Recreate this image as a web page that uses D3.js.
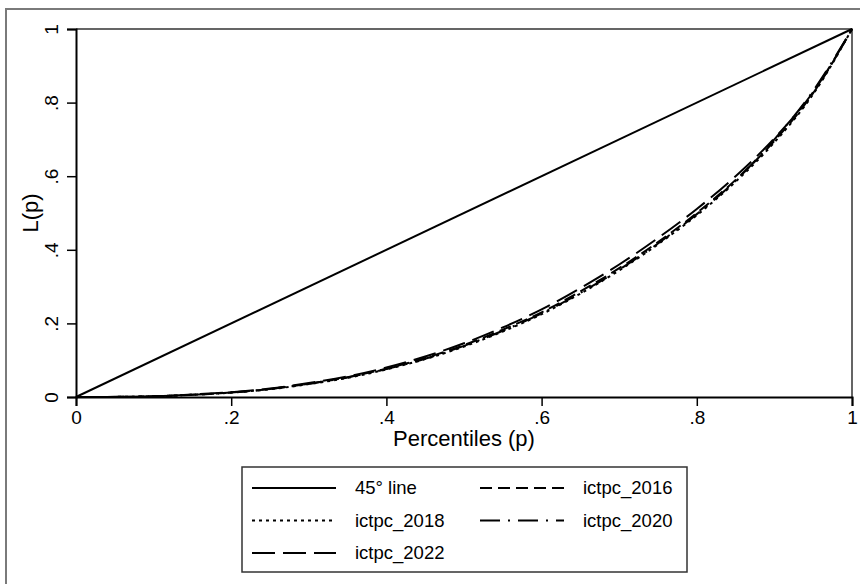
<!DOCTYPE html>
<html>
<head>
<meta charset="utf-8">
<script src="https://cdn.jsdelivr.net/npm/d3@7"></script>
<style>
  body { margin: 0; background: #fff; }
  text { font-family: "Liberation Sans", Arial, sans-serif; fill: #000; }
</style>
</head>
<body>
<svg id="chart" width="860" height="584"></svg>
<script>
// percentiles (x values)
var pct = [0, .05, .1, .15, .2, .25, .3, .35, .4, .45, .5, .55, .6, .65, .7, .75, .8, .85, .9, .95, 1];

// Lorenz curve values
var ictpc2016 = [0, .0003, .002, .006, .012, .022, .036, .054, .077, .106, .141, .183, .230, .287, .350, .421, .500, .590, .696, .826, 1];
var ictpc2018 = [0, .0003, .002, .006, .012, .021, .035, .052, .075, .103, .137, .178, .225, .281, .344, .415, .494, .585, .692, .823, 1];
var ictpc2020 = [0, .0003, .002, .006, .012, .022, .036, .053, .076, .104, .139, .180, .227, .283, .346, .417, .497, .588, .700, .832, 1];
var ictpc2022 = [0, .0004, .002, .007, .013, .023, .038, .056, .080, .110, .146, .189, .238, .296, .360, .432, .511, .600, .703, .829, 1];

var tickVals = [0, .2, .4, .6, .8, 1];
var tickLabels = ["0", ".2", ".4", ".6", ".8", "1"];

var series = [
  {name: "ictpc_2016", values: ictpc2016, dash: "12,6"},
  {name: "ictpc_2018", values: ictpc2018, dash: "3,4"},
  {name: "ictpc_2020", values: ictpc2020, dash: "20,8,2,8"},
  {name: "ictpc_2022", values: ictpc2022, dash: "23,8"}
];

var svg = d3.select("#chart");

// outer graph frame
svg.append("rect")
  .attr("x", 6).attr("y", 9)
  .attr("width", 880).attr("height", 620)
  .attr("fill", "none")
  .attr("stroke", "#7a7a7a")
  .attr("stroke-width", 2);

var plotLeft = 76, plotRight = 852, plotTop = 29, plotBottom = 397;
var x = d3.scaleLinear([0, 1], [plotLeft, plotRight]);
var y = d3.scaleLinear([0, 1], [plotBottom, plotTop]);

// plot region border (top and right)
svg.append("path")
  .attr("d", "M" + plotLeft + "," + plotTop + "H" + plotRight + "V" + plotBottom)
  .attr("fill", "none")
  .attr("stroke", "#333")
  .attr("stroke-width", 1.5);

// x axis
var xAxis = d3.axisBottom(x)
  .tickValues(tickVals)
  .tickFormat((d, i) => tickLabels[i])
  .tickSize(9)
  .tickPadding(5);

var gx = svg.append("g")
  .attr("transform", "translate(0," + plotBottom + ")")
  .call(xAxis);
gx.select(".domain").attr("stroke", "#000").attr("stroke-width", 2);
gx.selectAll(".tick line").attr("stroke", "#000").attr("stroke-width", 1.5);
gx.selectAll(".tick text").style("font-size", "19px").attr("fill", "#000");

// y axis, labels rotated
var yAxis = d3.axisLeft(y)
  .tickValues(tickVals)
  .tickFormat((d, i) => tickLabels[i])
  .tickSize(9)
  .tickPadding(5);

var gy = svg.append("g")
  .attr("transform", "translate(" + plotLeft + ",0)")
  .call(yAxis);
gy.select(".domain").attr("stroke", "#000").attr("stroke-width", 2);
gy.selectAll(".tick line").attr("stroke", "#000").attr("stroke-width", 1.5);
gy.selectAll(".tick text")
  .style("font-size", "19px")
  .attr("fill", "#000")
  .attr("x", null).attr("dy", null)
  .attr("text-anchor", "middle")
  .attr("transform", "translate(-18,0) rotate(-90)");

// axis titles
svg.append("text")
  .attr("x", (plotLeft + plotRight) / 2)
  .attr("y", 446)
  .attr("text-anchor", "middle")
  .style("font-size", "22px")
  .text("Percentiles (p)");

svg.append("text")
  .attr("transform", "translate(38," + ((plotTop + plotBottom) / 2) + ") rotate(-90)")
  .attr("text-anchor", "middle")
  .style("font-size", "22px")
  .text("L(p)");

// 45 degree line
svg.append("path")
  .datum([0, 1])
  .attr("d", d3.line().x(d => x(d)).y(d => y(d)))
  .attr("fill", "none")
  .attr("stroke", "#000")
  .attr("stroke-width", 2);

var line = d3.line()
  .x((d, i) => x(pct[i]))
  .y(d => y(d))
  .curve(d3.curveMonotoneX);

series.forEach(function(s) {
  svg.append("path")
    .datum(s.values)
    .attr("d", line)
    .attr("fill", "none")
    .attr("stroke", "#000")
    .attr("stroke-width", 2)
    .attr("stroke-dasharray", s.dash);
});

// legend
var legendItems = [{name: "45\u00b0 line", dash: null}].concat(series);
var lg = svg.append("g");
lg.append("rect")
  .attr("x", 242).attr("y", 467)
  .attr("width", 445).attr("height", 105)
  .attr("fill", "#fff")
  .attr("stroke", "#333")
  .attr("stroke-width", 1.5);

legendItems.forEach(function(d, i) {
  var col = i % 2, row = Math.floor(i / 2);
  var lx = col === 0 ? 252 : 480;
  var ly = 488 + row * 32.5;
  lg.append("line")
    .attr("x1", lx).attr("x2", lx + 84)
    .attr("y1", ly).attr("y2", ly)
    .attr("stroke", "#000")
    .attr("stroke-width", 2)
    .attr("stroke-dasharray", d.dash);
  lg.append("text")
    .attr("x", lx + 103)
    .attr("y", ly)
    .attr("dy", "0.35em")
    .style("font-size", "18.5px")
    .text(d.name);
});
</script>
</body>
</html>
